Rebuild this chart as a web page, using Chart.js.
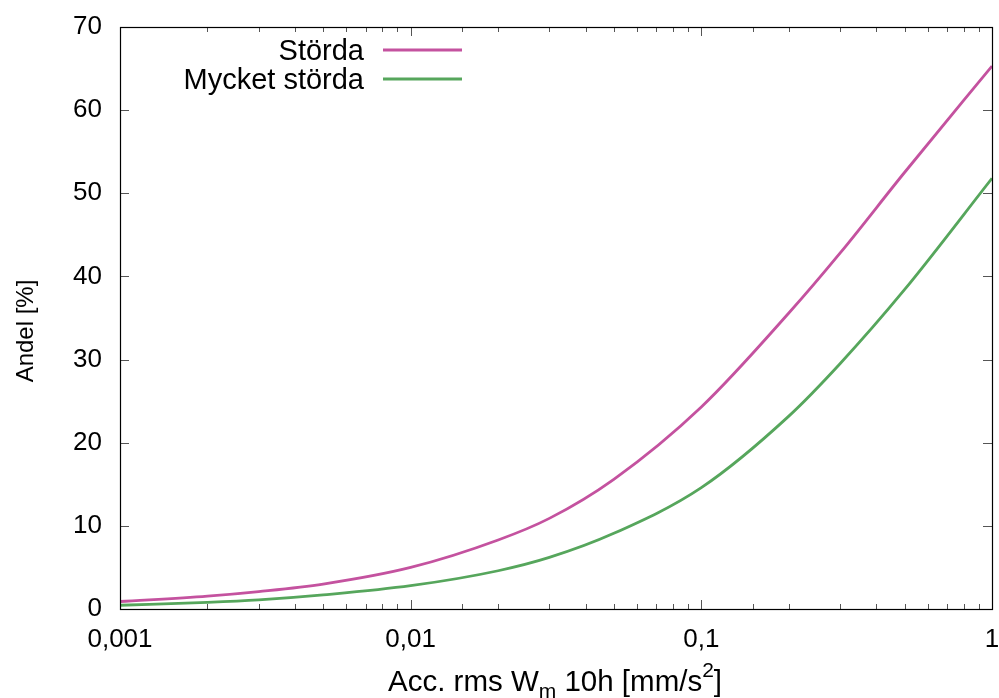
<!DOCTYPE html>
<html>
<head>
<meta charset="utf-8">
<script src="https://cdn.jsdelivr.net/npm/chart.js@4/dist/chart.umd.min.js"></script>
<style>
  html, body { margin: 0; padding: 0; background: #fff; }
  #wrap { width: 999px; height: 698px; }
</style>
</head>
<body>
<div id="wrap"><canvas id="chart"></canvas></div>
<script>
// values
const accValues = [0.001, 0.002, 0.003, 0.005, 0.01, 0.02, 0.03, 0.05, 0.1, 0.2, 0.3, 0.5, 1];
const stordaShare = [0.9, 1.55, 2.1, 3.0, 5.0, 8.3, 10.9, 15.6, 24.3, 35.6, 42.8, 52.5, 65.3];
const mycketShare = [0.45, 0.8, 1.1, 1.7, 2.8, 4.6, 6.2, 9.1, 14.6, 23.2, 29.5, 38.4, 51.8];
const seriesNames = ['Störda', 'Mycket störda'];
const seriesColors = ['#c4529f', '#56a65c'];
const yTickValues = [0, 10, 20, 30, 40, 50, 60, 70];
const yTitle = 'Andel [%]';

const FONT = 'Liberation Sans, Arial, sans-serif';

const toPoints = (ys) => accValues.map((x, i) => ({ x: x, y: ys[i] }));
const isMajor = (v) => Math.abs(Math.log10(v) - Math.round(Math.log10(v))) < 1e-9;

// gnuplot style frame: border box and inward ticks on all four sides
const framePlugin = {
  id: 'frame',
  afterDraw(chart) {
    const ctx = chart.ctx;
    const area = chart.chartArea;
    const xs = chart.scales.x;
    const ys = chart.scales.y;
    ctx.save();
    ctx.lineWidth = 1;
    ctx.strokeStyle = '#555';
    ctx.beginPath();
    xs.ticks.forEach(t => {
      const px = Math.round(xs.getPixelForValue(t.value)) + 0.5;
      const len = isMajor(t.value) ? 9 : 5;
      ctx.moveTo(px, area.bottom); ctx.lineTo(px, area.bottom - len);
      ctx.moveTo(px, area.top); ctx.lineTo(px, area.top + len);
    });
    yTickValues.forEach(v => {
      const py = Math.round(ys.getPixelForValue(v)) + 0.5;
      ctx.moveTo(area.left, py); ctx.lineTo(area.left + 9, py);
      ctx.moveTo(area.right, py); ctx.lineTo(area.right - 9, py);
    });
    ctx.stroke();
    ctx.strokeStyle = '#000';
    ctx.lineWidth = 1.2;
    ctx.strokeRect(Math.round(area.left) + 0.5, Math.round(area.top) + 0.5,
      Math.round(area.right - area.left), Math.round(area.bottom - area.top));

    // legend: right aligned text, sample line on its right
    ctx.font = '29px ' + FONT;
    ctx.textAlign = 'right';
    ctx.textBaseline = 'alphabetic';
    chart.data.datasets.forEach((ds, i) => {
      const y = 50 + i * 29;
      ctx.fillStyle = '#000';
      ctx.fillText(ds.label, 364, y + 10);
      ctx.strokeStyle = ds.borderColor;
      ctx.lineWidth = 2.8;
      ctx.beginPath();
      ctx.moveTo(383, y); ctx.lineTo(462, y);
      ctx.stroke();
    });

    // y axis title
    ctx.save();
    ctx.translate(33, 331);
    ctx.rotate(-Math.PI / 2);
    ctx.font = '24px ' + FONT;
    ctx.textAlign = 'center';
    ctx.fillText(yTitle, 0, 0);
    ctx.restore();

    // x axis title with subscript and superscript
    const parts = [
      ['Acc. rms W', 0], ['m', 1], [' 10h [mm/s', 0], ['2', -1], [']', 0]
    ];
    const fontFor = (k) => (k === 0 ? '29.5px ' : '21px ') + FONT;
    let x = 388;
    const base = 691;
    ctx.textAlign = 'left';
    ctx.fillStyle = '#000';
    parts.forEach(p => {
      ctx.font = fontFor(p[1]);
      const dy = p[1] === 1 ? 7 : (p[1] === -1 ? -14 : 0);
      ctx.fillText(p[0], x, base + dy);
      x += ctx.measureText(p[0]).width;
    });
    ctx.restore();
  }
};

const ctx = document.getElementById('chart');
new Chart(ctx, {
  type: 'line',
  data: {
    datasets: [
      { label: seriesNames[0], data: toPoints(stordaShare), borderColor: seriesColors[0] },
      { label: seriesNames[1], data: toPoints(mycketShare), borderColor: seriesColors[1] }
    ]
  },
  options: {
    responsive: true,
    maintainAspectRatio: false,
    animation: false,
    layout: { padding: { left: 0, top: 27, right: 7, bottom: 0 } },
    elements: {
      point: { radius: 0 },
      line: { borderWidth: 2.8, cubicInterpolationMode: 'monotone', fill: false }
    },
    plugins: { legend: { display: false }, tooltip: { enabled: false } },
    scales: {
      x: {
        type: 'logarithmic',
        min: 0.001,
        max: 1,
        grid: { display: false, drawTicks: false },
        border: { display: false },
        ticks: {
          autoSkip: false,
          maxRotation: 0,
          padding: 15,
          color: '#000',
          font: { family: FONT, size: 26 },
          callback: (v) => isMajor(v) ? String(Number(v.toPrecision(3))).replace('.', ',') : ''
        },
        afterFit: (s) => { s.height = 89; s.paddingLeft = 0; s.paddingRight = 0; }
      },
      y: {
        min: 0,
        max: 70,
        grid: { display: false, drawTicks: false },
        border: { display: false },
        ticks: { stepSize: 10, padding: 18, color: '#000', font: { family: FONT, size: 26 } },
        afterFit: (s) => { s.width = 120; s.paddingTop = 0; s.paddingBottom = 0; }
      }
    }
  },
  plugins: [framePlugin]
});
</script>
</body>
</html>
